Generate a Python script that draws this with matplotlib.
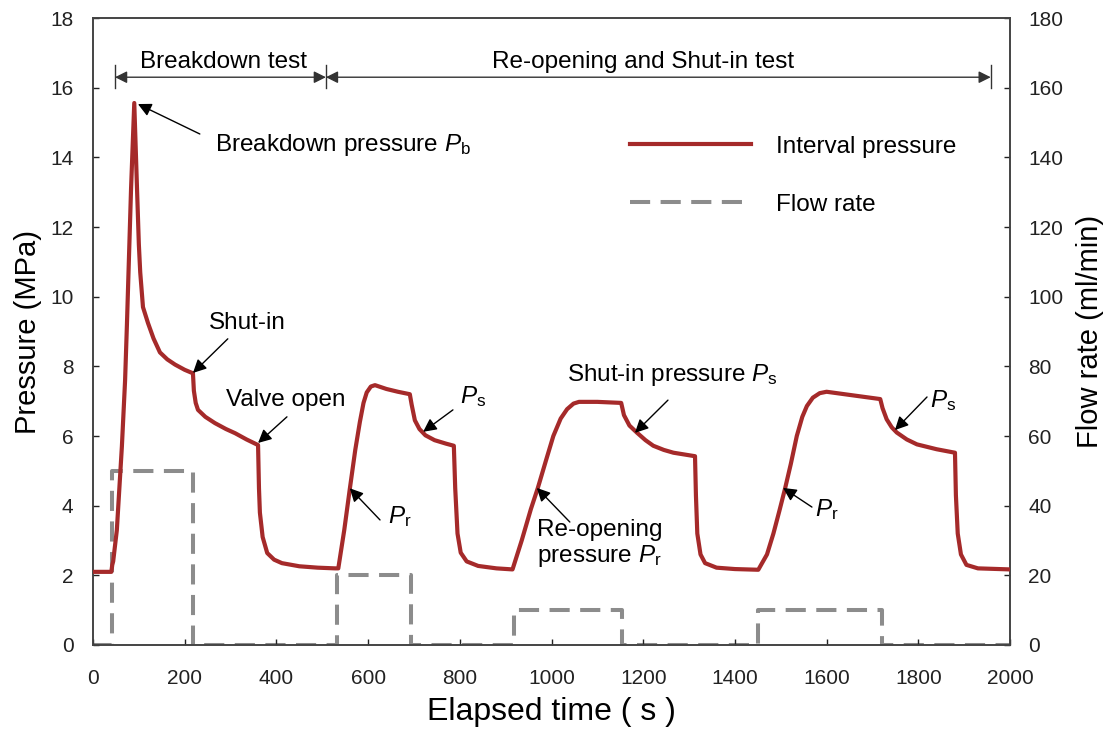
import matplotlib
matplotlib.use('Agg')
import matplotlib.pyplot as plt

plt.rcParams['font.family'] = ['Liberation Sans', 'DejaVu Sans']
plt.rcParams['mathtext.fontset'] = 'custom'
plt.rcParams['mathtext.rm'] = 'Liberation Sans'
plt.rcParams['mathtext.it'] = 'Liberation Sans:italic'

## Data
# Interval pressure (MPa) vs elapsed time (s)
t_press = [0, 40, 42, 44, 52, 63, 70, 74, 83, 90, 96, 100, 103, 109, 120, 132, 146, 162, 179, 200, 218,
           220, 224, 229, 245, 266, 290, 310, 335, 360, 362, 364, 370, 380, 395, 412, 450, 490, 528,
           535, 548, 560, 572, 582, 590, 597, 606, 615, 640, 665, 691, 695, 702, 712, 725, 745, 770, 787,
           790, 795, 802, 815, 840, 880, 915,
           935, 955, 970, 988, 1004, 1020, 1034, 1048, 1060, 1100, 1152, 1158, 1170, 1186, 1205, 1222,
           1245, 1266, 1313, 1315, 1318, 1325, 1335, 1360, 1400, 1451,
           1470, 1484, 1497, 1509, 1522, 1535, 1547, 1557, 1570, 1585, 1600, 1650, 1717, 1722, 1731, 1742,
           1753, 1775, 1797, 1840, 1880, 1882, 1886, 1893, 1905, 1930, 2000]
pressure = [2.1, 2.1, 2.3, 2.4, 3.3, 5.7, 7.6, 9.2, 13.1, 15.56, 13.1, 11.5, 10.7, 9.7, 9.24, 8.8, 8.4, 8.2, 8.05, 7.9, 7.8,
            7.3, 6.95, 6.75, 6.55, 6.37, 6.2, 6.08, 5.9, 5.74, 4.5, 3.8, 3.1, 2.64, 2.45, 2.35, 2.26, 2.22, 2.2,
            2.2, 3.3, 4.47, 5.6, 6.4, 6.95, 7.25, 7.42, 7.46, 7.35, 7.27, 7.2, 6.9, 6.45, 6.2, 6.02, 5.88, 5.78, 5.72,
            4.5, 3.2, 2.65, 2.4, 2.27, 2.2, 2.17,
            3.0, 3.9, 4.5, 5.3, 6.0, 6.5, 6.77, 6.93, 6.98, 6.98, 6.95, 6.6, 6.3, 6.1, 5.88, 5.72,
            5.6, 5.52, 5.42, 4.3, 3.2, 2.6, 2.35, 2.22, 2.18, 2.16,
            2.6, 3.2, 3.85, 4.47, 5.2, 6.0, 6.55, 6.86, 7.1, 7.23, 7.27, 7.18, 7.06, 6.8, 6.48, 6.25,
            6.1, 5.9, 5.76, 5.62, 5.52, 4.3, 3.2, 2.6, 2.3, 2.2, 2.17]

# Flow rate (ml/min), step changes
t_flow = [0, 41, 218, 533, 694, 918, 1154, 1451, 1721, 2000]
flow = [0, 50, 0, 20, 0, 10, 0, 10, 0, 0]

red = '#A52A2A'
gray = '#8C8C8C'
fs_ann = 17.5

fig = plt.figure(figsize=(11.11, 7.29), dpi=100)
ax = fig.add_axes([93/1111, 84/729, 917/1111, 627/729])
ax2 = ax.twinx()

ax2.step(t_flow, flow, where='post', color=gray, lw=2.9, dashes=(5, 2.6), label='Flow rate')
ax.plot(t_press, pressure, color=red, lw=3.0, label='Interval pressure', zorder=3)
ax.set_zorder(ax2.get_zorder() + 1)
ax.patch.set_visible(False)

ax.set_xlim(0, 2000)
ax.set_ylim(0, 18)
ax2.set_ylim(0, 180)
ax.set_xticks(range(0, 2001, 200))
ax.set_yticks(range(0, 19, 2))
ax2.set_yticks(range(0, 181, 20))
for a in (ax, ax2):
    a.tick_params(direction='in', length=4, width=1, labelsize=15, colors='#222222')
    for s in a.spines.values():
        s.set_color('#444444')
        s.set_linewidth(1.2)
ax.tick_params(axis='x', pad=17)
ax.tick_params(axis='y', pad=14)
ax2.tick_params(axis='y', pad=13)

ax.set_xlabel('Elapsed time ( s )', fontsize=23, labelpad=7)
ax.set_ylabel('Pressure (MPa)', fontsize=21, labelpad=6)
ax2.set_ylabel('Flow rate (ml/min)', fontsize=21, labelpad=9)

# Annotation arrows
arrow = dict(arrowstyle='-|>', color='black', lw=1, mutation_scale=20, shrinkA=0, shrinkB=0)
arrows = [
    ((98, 15.53), (233, 14.67)),     # breakdown
    ((218, 7.81), (294, 8.79)),      # shut-in
    ((360, 5.8), (423, 6.55)),       # valve open
    ((720, 6.12), (785, 6.75)),      # Ps 2
    ((560, 4.5), (626, 3.59)),       # Pr 2
    ((1182, 6.09), (1254, 7.03)),    # shut-in pressure
    ((968, 4.51), (1040, 3.53)),     # re-opening
    ((1749, 6.17), (1819, 7.12)),    # Ps 4
    ((1505, 4.51), (1568, 3.96)),    # Pr 4
]
for tip, tail in arrows:
    ax.annotate('', xy=tip, xytext=tail, arrowprops=arrow)

ax.text(266, 14.36, r'Breakdown pressure $\mathit{P}_{\mathrm{b}}$', fontsize=fs_ann, va='center')
ax.text(336, 9.25, 'Shut-in', fontsize=fs_ann, ha='center', va='center')
ax.text(421, 7.03, 'Valve open', fontsize=fs_ann, ha='center', va='center')
ax.text(800, 7.12, r'$\mathit{P}_{\mathrm{s}}$', fontsize=fs_ann, va='center')
ax.text(643, 3.68, r'$\mathit{P}_{\mathrm{r}}$', fontsize=fs_ann, va='center')
ax.text(1034, 7.75, r'Shut-in pressure $\mathit{P}_{\mathrm{s}}$', fontsize=fs_ann, va='center')
ax.text(968, 2.9, 'Re-opening\n' + r'pressure $\mathit{P}_{\mathrm{r}}$', fontsize=fs_ann, va='center',
        linespacing=1.15)
ax.text(1826, 7.03, r'$\mathit{P}_{\mathrm{s}}$', fontsize=fs_ann, va='center')
ax.text(1575, 3.88, r'$\mathit{P}_{\mathrm{r}}$', fontsize=fs_ann, va='center')

# Test stage dimension lines
dim = dict(arrowstyle='<|-|>', color='#333333', lw=1, mutation_scale=18, shrinkA=0, shrinkB=0)
y_dim = 16.3
ax.annotate('', xy=(48, y_dim), xytext=(508, y_dim), arrowprops=dim)
ax.annotate('', xy=(508, y_dim), xytext=(1958, y_dim), arrowprops=dim)
for xb in (48, 508, 1958):
    ax.plot([xb, xb], [16.0, 16.65], color='#333333', lw=1)
ax.text(284, 16.75, 'Breakdown test', fontsize=fs_ann, ha='center', va='center')
ax.text(1200, 16.75, 'Re-opening and Shut-in test', fontsize=fs_ann, ha='center', va='center')

h1, l1 = ax.get_legend_handles_labels()
h2, l2 = ax2.get_legend_handles_labels()
ax.legend(h1 + h2, l1 + l2, loc='upper left', bbox_to_anchor=(0.572, 0.832), frameon=False,
          fontsize=fs_ann, handlelength=5.0, handletextpad=1.0, labelspacing=1.5, borderpad=0)

plt.savefig('out.png', dpi=100)
